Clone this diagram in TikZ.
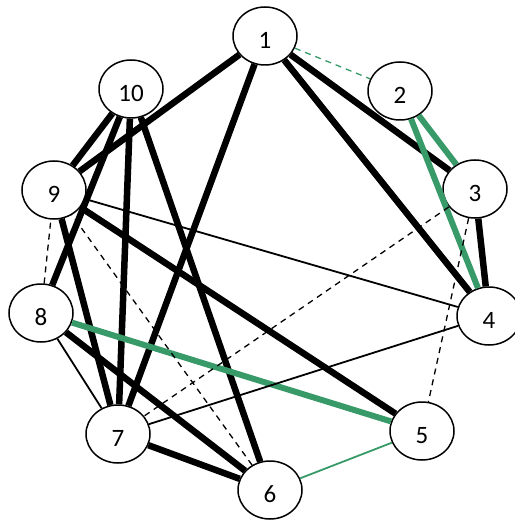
\documentclass[tikz,border=0pt]{standalone}
\usepackage{fontspec}
\setmainfont{Carlito}
\usetikzlibrary{shapes.geometric}
\definecolor{grn}{RGB}{56,154,104}
\tikzset{
  vtx/.style={ellipse,draw=black,line width=1.5pt,fill=white,minimum width=64pt,minimum height=58pt,inner sep=0pt,font=\fontsize{25}{25}\selectfont,text height=25pt,text depth=0pt},
  thk/.style={line width=6.5pt,black},
  thn/.style={line width=1.8pt,black},
  dsh/.style={line width=1.3pt,black,dash pattern=on 6pt off 5pt},
  gthk/.style={line width=6pt,grn},
  gthn/.style={line width=1.8pt,grn},
  gdsh/.style={line width=1.3pt,grn,dash pattern=on 6pt off 5pt}
}
\begin{document}
\begin{tikzpicture}[x=1pt,y={(0pt,-1pt)}]
\useasboundingbox (0,0) rectangle (514,521);
\node[vtx] (n1) at (265,36) {1};
\node[vtx] (n2) at (400,91) {2};
\node[vtx] (n3) at (475,189) {3};
\node[vtx] (n4) at (489,316) {4};
\node[vtx] (n5) at (422,431) {5};
\node[vtx] (n6) at (270,490) {6};
\node[vtx] (n7) at (118,434) {7};
\node[vtx] (n8) at (41,313) {8};
\node[vtx] (n9) at (54,190) {9};
\node[vtx] (n10) at (131,89) {10};
\begin{scope}[on background layer/.style={}]
\draw[thk] (n1) -- (n3);
\draw[thk] (n1) -- (n4);
\draw[thk] (n1) -- (n7);
\draw[thk] (n1) -- (n9);
\draw[thk] (n3) -- (n4);
\draw[thk] (n5) -- (n9);
\draw[thk] (n6) -- (n10);
\draw[thk] (n6) -- (n8);
\draw[thk] (n6) -- (n7);
\draw[thk] (n7) -- (n10);
\draw[thk] (n7) -- (n9);
\draw[thk] (n8) -- (n10);
\draw[thk] (n9) -- (n10);
\draw[gthk] (n2) -- (n3);
\draw[gthk] (n2) -- (n4);
\draw[gthk] (n5) -- (n8);
\draw[gthn] (n5) -- (n6);
\draw[gdsh] (n1) -- (n2);
\draw[thn] (n4) -- (n9);
\draw[thn] (n4) -- (n7);
\draw[thn] (n7) -- (n8);
\draw[dsh] (n3) -- (n7);
\draw[dsh] (n3) -- (n5);
\draw[dsh] (n8) -- (n9);
\draw[dsh] (n6) -- (n9);
\end{scope}
\end{tikzpicture}
\end{document}
